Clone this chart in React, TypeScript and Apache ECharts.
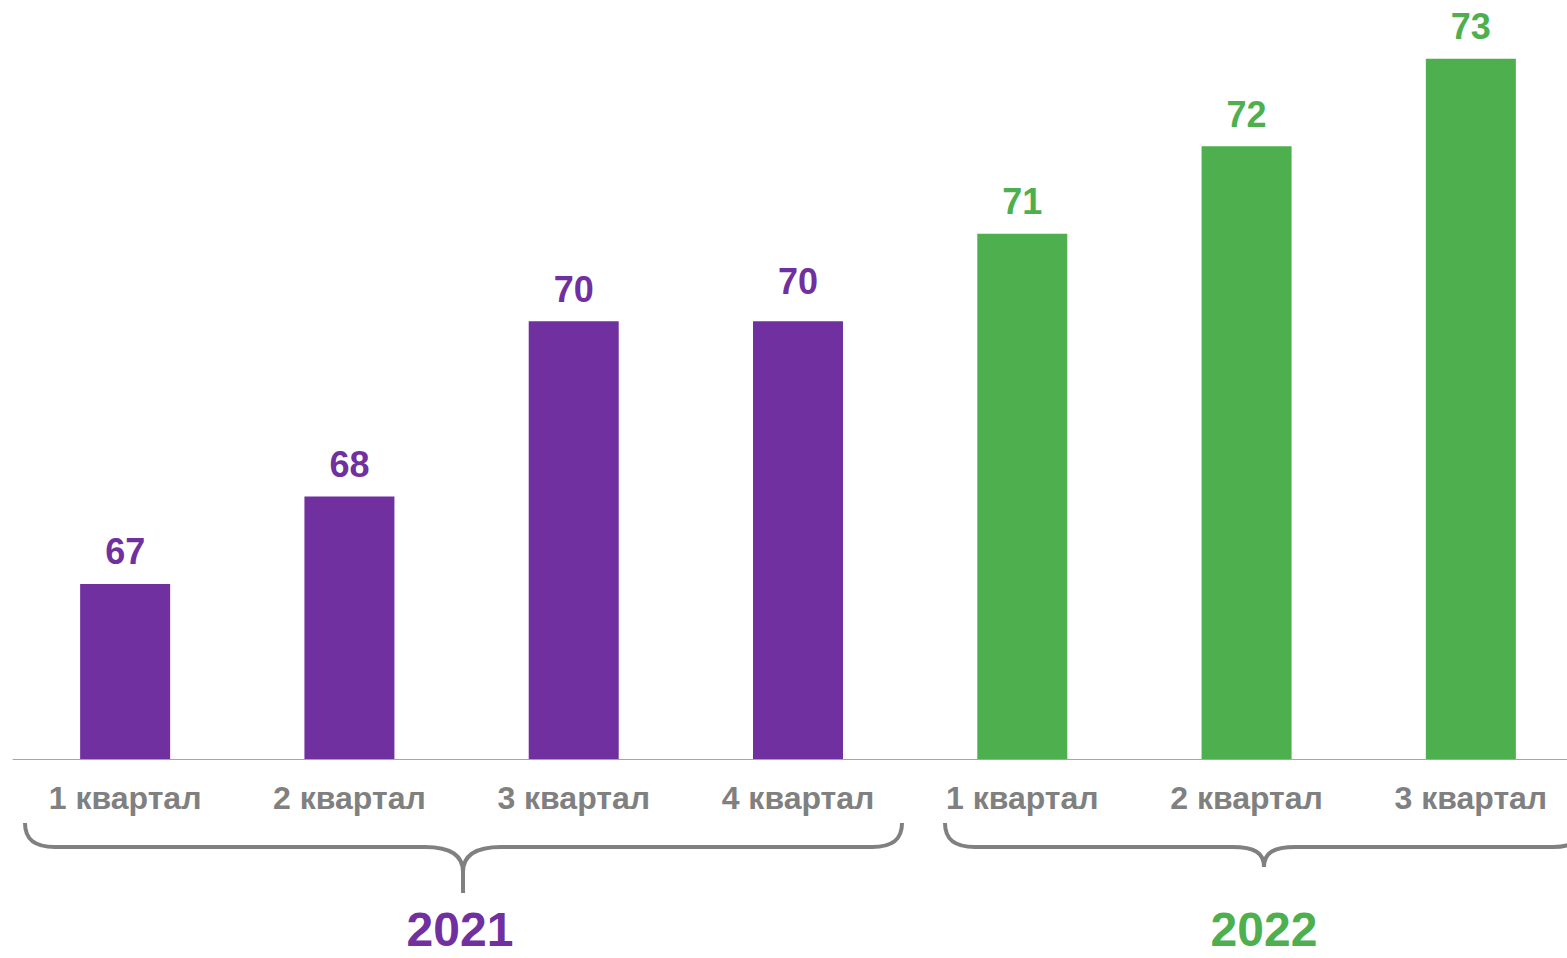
import React, { useEffect, useRef } from "react";
import * as echarts from "echarts";

const categories = ["1 квартал", "2 квартал", "3 квартал", "4 квартал", "1 квартал", "2 квартал", "3 квартал"];
const values = [67, 68, 70, 70, 71, 72, 73];
const yearOfBar = ["2021", "2021", "2021", "2021", "2022", "2022", "2022"];
const yearLabels = ["2021", "2022"];

const PURPLE = "#7030A0";
const GREEN = "#4EAF4E";
const GRAY = "#808080";
const FONT = '"Liberation Sans", Arial, sans-serif';

const yearColor: Record<string, string> = { "2021": PURPLE, "2022": GREEN };

echarts.graphic.registerShape(
  "brace2021",
  echarts.graphic.extendPath(
    "M25 823 C25 840 35 847 55 847 L425 847 C452 847 463 856 463 872 L463 893 M463 872 C463 856 474 847 501 847 L872 847 C892 847 902 840 902 823",
    {}
  )
);
echarts.graphic.registerShape(
  "brace2022",
  echarts.graphic.extendPath(
    "M945 823 C945 840 955 847 975 847 L1232 847 C1255 847 1264 853 1264 867 C1264 853 1273 847 1296 847 L1553 847 C1573 847 1583 840 1583 823",
    {}
  )
);

export default function App() {
  const ref = useRef<HTMLDivElement>(null);
  useEffect(() => {
    if (!ref.current) return;
    const chart = echarts.init(ref.current, null, { renderer: "svg" });
    const data = values.map((v, i) => ({
      value: v,
      itemStyle: { color: yearColor[yearOfBar[i]] },
      label: {
        color: yearColor[yearOfBar[i]],
        offset: i === 3 ? [0, -8] : [0, 0],
      },
    }));
    chart.setOption({
      animation: false,
      grid: { left: 13, right: 17, top: 15, bottom: 199, containLabel: false },
      xAxis: {
        type: "category",
        data: categories,
        axisLine: { show: true, lineStyle: { color: "#A6A6A6", width: 1 } },
        axisTick: { show: false },
        axisLabel: {
          color: GRAY,
          fontSize: 32,
          fontWeight: "bold",
          fontFamily: FONT,
          margin: 23,
          interval: 0,
        },
      },
      yAxis: {
        type: "value",
        min: 65,
        max: 73.5,
        show: false,
        splitLine: { show: false },
      },
      series: [
        {
          type: "bar",
          data,
          barWidth: 90,
          label: {
            show: true,
            position: "top",
            distance: 14,
            fontSize: 36,
            fontWeight: "bold",
            fontFamily: FONT,
          },
        },
      ],
      graphic: [
        { type: "brace2021", x: 0, y: 0, silent: true, style: { stroke: GRAY, lineWidth: 4, fill: "none" } },
        { type: "brace2022", x: 0, y: 0, silent: true, style: { stroke: GRAY, lineWidth: 4, fill: "none" } },
        {
          type: "text",
          x: 460,
          y: 929,
          style: {
            text: yearLabels[0],
            fill: PURPLE,
            fontSize: 48,
            lineHeight: 48,
            fontWeight: "bold",
            fontFamily: FONT,
            textAlign: "center",
            textVerticalAlign: "middle",
          },
        },
        {
          type: "text",
          x: 1264,
          y: 929,
          style: {
            text: yearLabels[1],
            fill: GREEN,
            fontSize: 48,
            lineHeight: 48,
            fontWeight: "bold",
            fontFamily: FONT,
            textAlign: "center",
            textVerticalAlign: "middle",
          },
        },
      ],
    });
    return () => chart.dispose();
  }, []);
  return (
    <div style={{ position: "fixed", left: 0, top: 0, width: 1567, height: 958, overflow: "hidden", background: "#fff" }}>
      <div ref={ref} style={{ position: "absolute", left: 0, top: 0, width: 1600, height: 958 }} />
    </div>
  );
}
